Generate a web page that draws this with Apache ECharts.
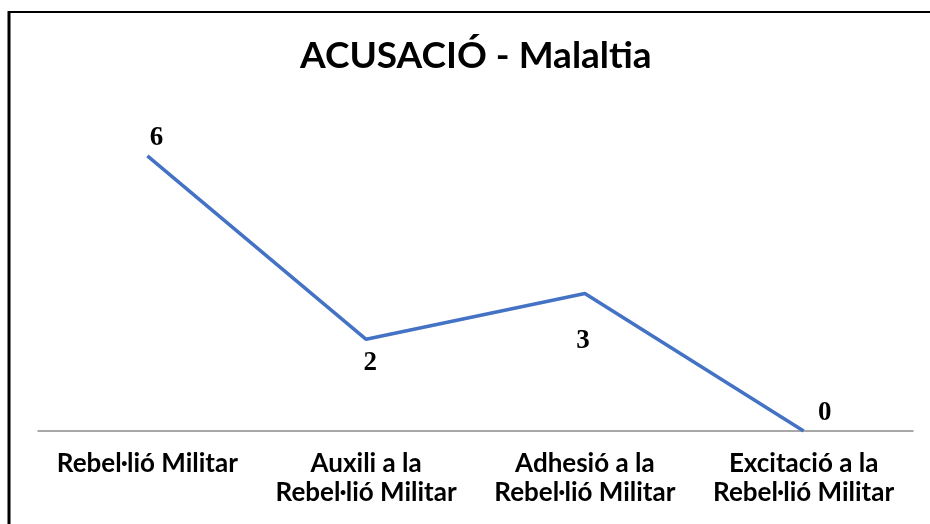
<!DOCTYPE html>
<html>
<head>
<meta charset="utf-8">
<script src="https://cdn.jsdelivr.net/npm/echarts@6/dist/echarts.min.js"></script>
<style>
  html, body { margin: 0; padding: 0; background: #fff; }
  #chart { width: 930px; height: 524px; }
</style>
</head>
<body>
<div id="chart"></div>
<script>
// categories & values
const categories = ['Rebel·lió Militar', 'Auxili a la\nRebel·lió Militar', 'Adhesió a la\nRebel·lió Militar', 'Excitació a la\nRebel·lió Militar']
const values = [6, 2, 3, 0]
// where each data label sits relative to its point (as in the original)
const labelOffsets = [[9, -18], [4, 24], [-2, 48], [21, -18]]

const chart = echarts.init(document.getElementById('chart'))

const option = {
    animation: false,
    backgroundColor: '#fff',
    title: {
        text: 'ACUSACIÓ - Malaltia',
        left: 295,
        top: 33,
        textStyle: {
            fontFamily: 'Lato',
            fontWeight: 'bold',
            fontSize: 37,
            color: '#000'
        }
    },
    grid: { left: 38, right: 17, top: 110, bottom: 93 },
    xAxis: {
        type: 'category',
        data: categories,
        boundaryGap: true,
        axisLine: { lineStyle: { color: '#8c8c8c', width: 1.5 } },
        axisTick: { show: false },
        axisLabel: {
            interval: 0,
            margin: 18,
            fontFamily: 'Lato',
            fontWeight: 'bold',
            fontSize: 26,
            lineHeight: 29,
            color: '#000'
        }
    },
    yAxis: {
        type: 'value',
        min: 0,
        max: 7,
        show: false
    },
    graphic: [
        { type: 'line', shape: { x1: 9, y1: 11, x2: 9, y2: 524 }, style: { stroke: '#000', lineWidth: 3 } },
        { type: 'line', shape: { x1: 8, y1: 12, x2: 930, y2: 12 }, style: { stroke: '#000', lineWidth: 2 } }
    ],
    series: [{
        type: 'line',
        data: values.map((v, i) => ({
            value: v,
            label: { offset: labelOffsets[i] }
        })),
        symbol: 'circle',
        symbolSize: 1,
        showSymbol: true,
        itemStyle: { color: 'rgba(0,0,0,0)' },
        lineStyle: { color: '#4472C4', width: 3.5 },
        label: {
            show: true,
            position: 'inside',
            fontFamily: 'Liberation Serif',
            fontWeight: 'bold',
            fontSize: 27,
            color: '#000'
        }
    }]
}

chart.setOption(option)
</script>
</body>
</html>
